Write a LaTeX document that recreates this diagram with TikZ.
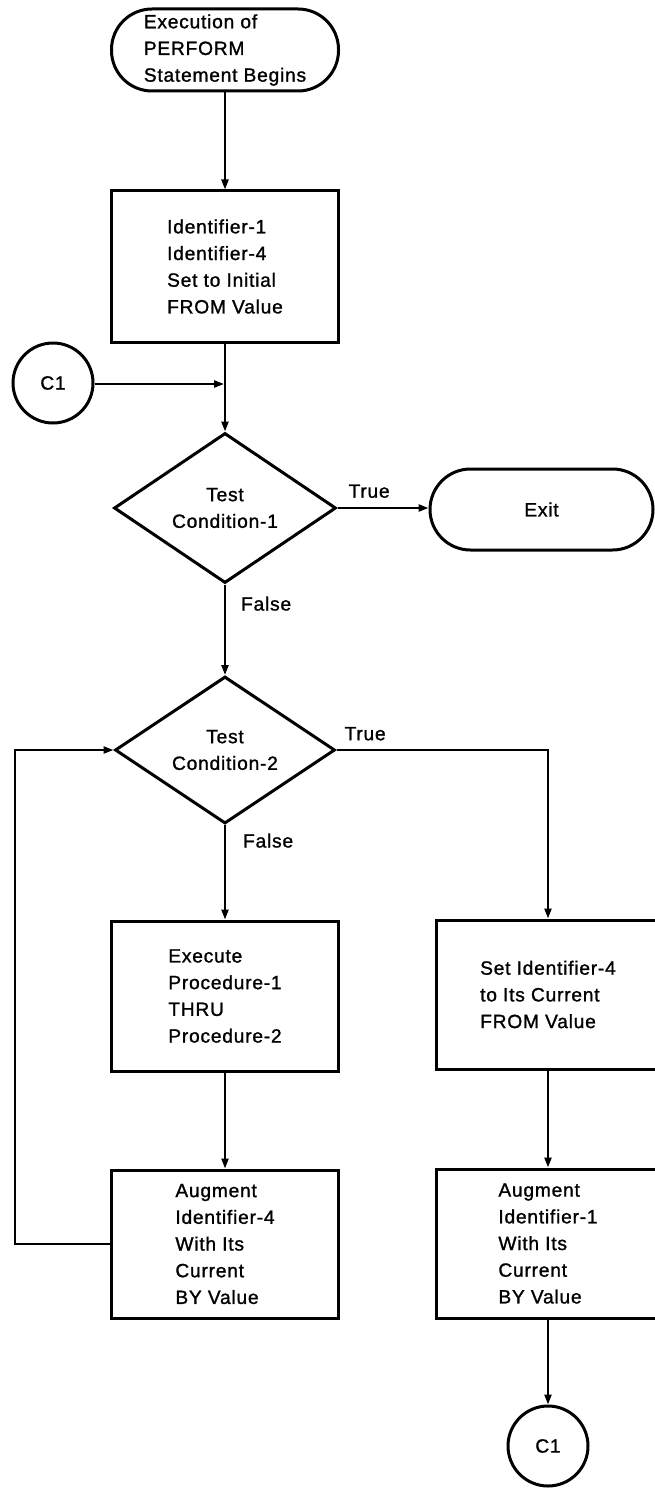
\documentclass[tikz,border=0pt]{standalone}
\usepackage{fontspec}
\setmainfont{Liberation Sans}[LetterSpace=4, FakeBold=1.2]
\usetikzlibrary{arrows.meta,shapes.geometric}

\begin{document}
\begin{tikzpicture}[x=1pt,y=-1pt,
  every node/.style={font=\fontsize{19.2}{26.7}\selectfont},
  procbox/.style={draw, line width=3pt, rectangle, align=left, inner sep=0pt},
  terminal/.style={draw, line width=3pt, rectangle, rounded corners=40.5pt,
    align=left, inner sep=0pt},
  decision/.style={draw, line width=3pt, diamond, align=center, inner sep=0pt},
  offpage/.style={draw, line width=3pt, circle, minimum size=80pt, inner sep=0pt},
  flow/.style={line width=2.2pt, -{Triangle[length=10pt,width=7pt]}},
  branch/.style={inner sep=0pt}
]
\useasboundingbox[fill=white] (0,0) rectangle (654,1490);

% column positions
\coordinate (loopx) at (15,0);

% main path
\node[terminal, minimum width=227pt, minimum height=82pt] (start) at (225,50)
  {Execution of\\PERFORM\\Statement Begins};
\node[procbox, minimum width=227pt, minimum height=151pt] (init) at (225,266.5)
  {Identifier-1\\Identifier-4\\Set to Initial\\FROM Value};
\node[offpage] (c1in) at (53,383) {C1};
\coordinate (join) at (224,384);
\node[decision, minimum width=222pt, minimum height=150pt] (test1) at (225,508)
  {Test\\Condition-1};
\node[terminal, minimum width=223pt, minimum height=81pt, align=center] (exit)
  at (541.5,509.5) {Exit};
\node[decision, minimum width=220pt, minimum height=147pt] (test2) at (225,750)
  {Test\\Condition-2};
\node[procbox, minimum width=227pt, minimum height=150pt] (exec) at (225,996)
  {Execute\\Procedure-1\\THRU\\Procedure-2};
\node[procbox, minimum width=227pt, minimum height=148pt] (aug4) at (225,1244)
  {Augment\\Identifier-4\\With Its\\Current\\BY Value};
\node[procbox, minimum width=224pt, minimum height=149pt] (setfrom) at (548,994.5)
  {Set Identifier-4\\to Its Current\\FROM Value};
\node[procbox, minimum width=224pt, minimum height=149pt] (aug1) at (548,1243.5)
  {Augment\\Identifier-1\\With Its\\Current\\BY Value};
\node[offpage] (c1out) at (548,1446) {C1};

% connectors
\draw[flow] (start.south) -- (init.north);
\draw[flow] (init.south) -- (test1.north);
\draw[flow] (c1in.east |- join) -- (join);
\draw[flow] (test1.east) -- node[branch, pos=0, anchor=south west, xshift=10pt, yshift=9pt] (true1) {True} (test1.east -| exit.west);
\draw[flow] (test1.south) -- node[branch, pos=0, anchor=north west, xshift=15pt, yshift=-11pt] (false1) {False} (test2.north);
\draw[flow] (test2.east) -- node[branch, pos=0, anchor=south west, xshift=7pt, yshift=8.5pt] (true2) {True} (test2.east -| setfrom.north) -- (setfrom.north);
\draw[flow] (test2.south) -- node[branch, pos=0, anchor=north west, xshift=17pt, yshift=-7.5pt] (false2) {False} (exec.north);
\draw[flow] (exec.south) -- (aug4.north);
\draw[flow] (aug4.west) -- (aug4.west -| loopx) |- (test2.west);
\draw[flow] (setfrom.south) -- (aug1.north);
\draw[flow] (aug1.south) -- (c1out.north);
\end{tikzpicture}
\end{document}
